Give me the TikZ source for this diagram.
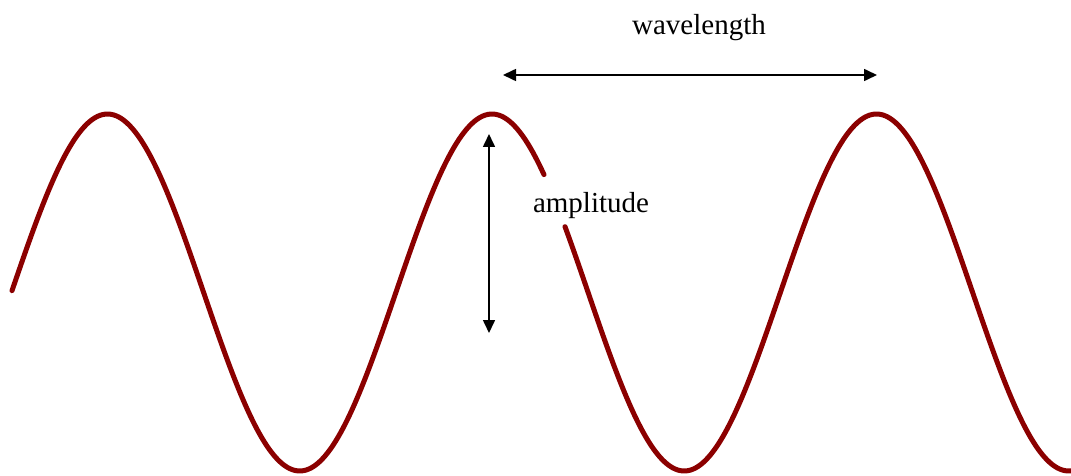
\documentclass[tikz,border=0pt]{standalone}
\usepackage{fontspec}
\setmainfont{Liberation Serif}
\usetikzlibrary{arrows.meta}
\definecolor{wavered}{RGB}{139,0,0}
\begin{document}
\begin{tikzpicture}[x=1pt,y=-1pt,
  wave/.style={draw=wavered,line width=5pt,line cap=round,line join=round},
  dim/.style={draw=black,line width=1.6pt,{Triangle[length=13pt,width=12pt]}-{Triangle[length=13pt,width=12pt]}},
  lbl/.style={font=\fontsize{29}{32}\selectfont,inner sep=0pt}]
\useasboundingbox (0,0) rectangle (1071,476);
\draw[wave] plot[domain=12:544,samples=200,smooth] (\x,{292.5-178.5*cos(0.936281*(\x-492))});
\draw[wave] plot[domain=565:1075,samples=200,smooth] (\x,{292.5-178.5*cos(0.936281*(\x-492))});
\coordinate (wl) at (503,75);
\coordinate (wr) at (877,75);
\draw[dim] (wl) -- (wr);
\coordinate (at) at (489,134);
\coordinate (ab) at (489,333);
\draw[dim] (at) -- (ab);
\node[lbl] (wavelength) at (699,28) {wavelength};
\node[lbl] (amplitude) at (591,206) {amplitude};
\end{tikzpicture}
\end{document}
